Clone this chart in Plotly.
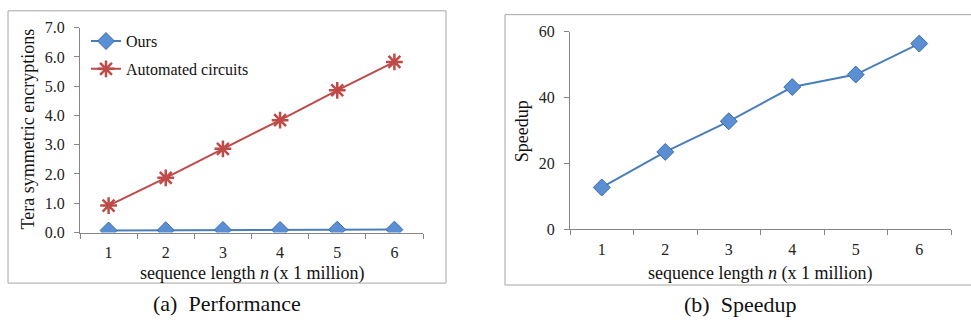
import plotly.graph_objects as go

# sequence length n (x 1 million)
seq_len = ["1", "2", "3", "4", "5", "6"]

# (a) Performance: tera symmetric encryptions
ours = [0.07, 0.08, 0.09, 0.09, 0.10, 0.10]
automated = [0.92, 1.87, 2.86, 3.84, 4.86, 5.83]

# (b) Speedup
speedup = [12.7, 23.5, 32.8, 43.2, 47.0, 56.4]

y1_ticks = [0, 1, 2, 3, 4, 5, 6, 7]
y1_labels = ["0.0", "1.0", "2.0", "3.0", "4.0", "5.0", "6.0", "7.0"]
y2_ticks = [0, 20, 40, 60]

FONT = "Liberation Serif"
BLUE = "#4A7EBB"
BLUE_FILL = "#5B8FD3"
RED = "#BE4B48"
AXIS = "#868686"

W, H = 971, 331

def px_x(v):
    return v / W

def px_y(v):
    return 1 - v / H

fig = go.Figure()

fig.add_trace(go.Scatter(
    x=seq_len, y=ours, name="Ours", mode="lines+markers",
    line=dict(color=BLUE, width=2), legendgroup="ours",
    marker=dict(symbol="diamond", size=13, color=BLUE_FILL,
                line=dict(color="#3A6AA8", width=1)),
    xaxis="x", yaxis="y",
))
fig.add_trace(go.Scatter(
    x=seq_len, y=automated, name="Automated circuits", mode="lines+markers",
    line=dict(color=RED, width=2), legendgroup="auto",
    marker=dict(symbol="asterisk-open", size=14,
                line=dict(color=RED, width=2.5)),
    xaxis="x", yaxis="y",
))
fig.add_trace(go.Scatter(
    x=seq_len, y=speedup, name="Speedup", mode="lines+markers",
    line=dict(color=BLUE, width=2),
    marker=dict(symbol="diamond", size=13, color=BLUE_FILL,
                line=dict(color="#3A6AA8", width=1)),
    xaxis="x2", yaxis="y2", showlegend=False,
))

tick_font = dict(family=FONT, size=16, color="#222222")
xaxis_common = dict(
    type="category", tickson="boundaries", ticks="outside", ticklen=5,
    tickcolor=AXIS, showline=True, linecolor=AXIS, linewidth=1,
    showgrid=False, zeroline=False, tickfont=tick_font, range=[-0.5, 5.5],
    ticklabelstandoff=5, fixedrange=True,
)
yaxis_common = dict(
    ticks="outside", ticklen=5, tickcolor=AXIS, showline=True,
    linecolor=AXIS, linewidth=1, showgrid=False, zeroline=False,
    tickfont=tick_font, ticklabelstandoff=6, fixedrange=True,
)

fig.update_layout(
    width=W, height=H,
    margin=dict(l=0, r=0, t=0, b=0),
    paper_bgcolor="white", plot_bgcolor="white",
    font=dict(family=FONT, color="#111111"),
    xaxis=dict(domain=[px_x(80), px_x(423)], anchor="y", **xaxis_common),
    yaxis=dict(domain=[px_y(236.7), px_y(20.7)], anchor="x", range=[0, 7],
               tickvals=y1_ticks, ticktext=y1_labels, **yaxis_common),
    xaxis2=dict(domain=[px_x(570), px_x(951)], anchor="y2", **xaxis_common),
    yaxis2=dict(domain=[px_y(233.3), px_y(25)], anchor="x2", range=[0, 60],
                tickvals=y2_ticks, **yaxis_common),
    legend=dict(
        x=px_x(86), y=px_y(17), xanchor="left", yanchor="top",
        bgcolor="rgba(0,0,0,0)", font=dict(family=FONT, size=16, color="#111111"),
        itemwidth=30, tracegroupgap=4,
    ),
    showlegend=True,
)

# panel frames
fig.add_shape(type="rect", xref="paper", yref="paper",
              x0=px_x(8), x1=px_x(446), y0=px_y(290), y1=px_y(3),
              line=dict(color="#A6A6A6", width=1))
fig.add_shape(type="rect", xref="paper", yref="paper",
              x0=px_x(505), x1=px_x(985), y0=px_y(292), y1=px_y(7),
              line=dict(color="#A6A6A6", width=1))

title_font = dict(family=FONT, size=18, color="#111111")
cap_font = dict(family=FONT, size=22, color="#111111")
annots = [
    dict(text="Tera symmetric encryptions", x=px_x(28), y=px_y(128),
         textangle=-90, font=title_font),
    dict(text="sequence length <i>n</i> (x 1 million)", x=px_x(252), y=px_y(280),
         font=title_font),
    dict(text="(a)  Performance", x=px_x(227), y=px_y(312), font=cap_font),
    dict(text="Speedup", x=px_x(522), y=px_y(130), textangle=-90, font=title_font),
    dict(text="sequence length <i>n</i> (x 1 million)", x=px_x(760), y=px_y(280),
         font=title_font),
    dict(text="(b)  Speedup", x=px_x(740), y=px_y(313), font=cap_font),
]
for a in annots:
    fig.add_annotation(xref="paper", yref="paper", showarrow=False,
                       xanchor="center", yanchor="middle", **a)

fig.write_html("out.html")
